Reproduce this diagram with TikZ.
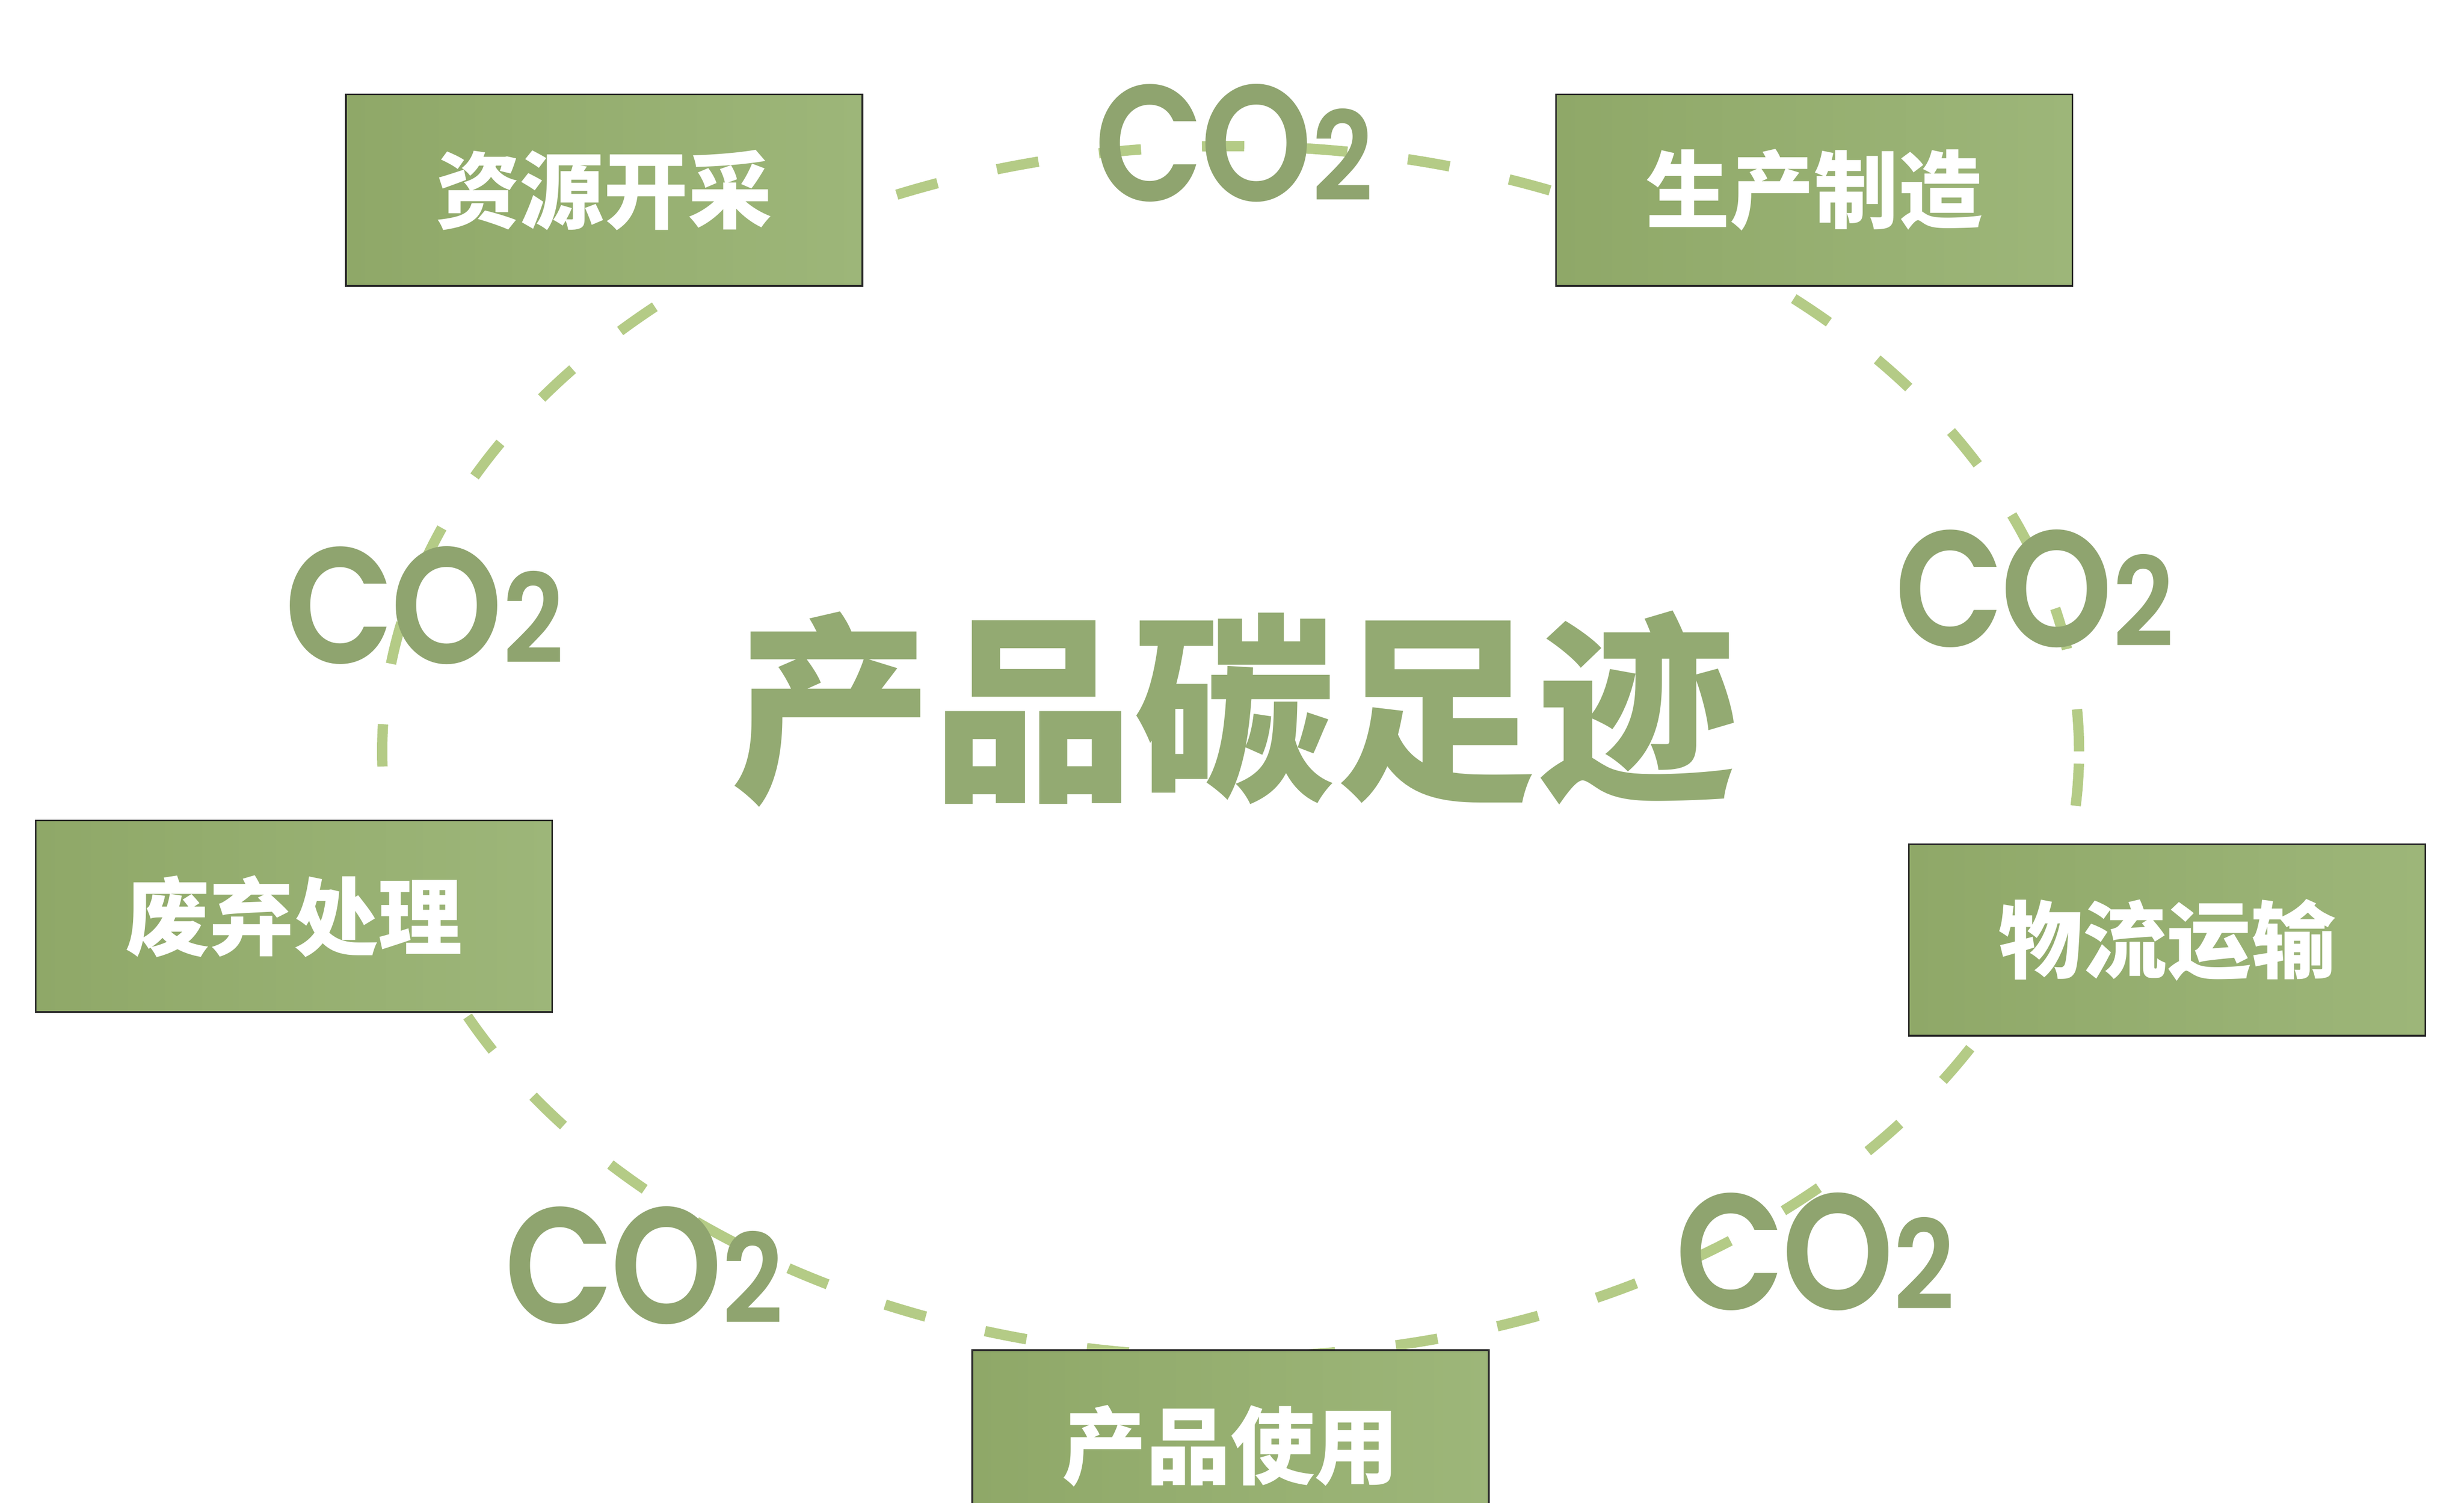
\documentclass[tikz,border=0pt]{standalone}
\usepackage{fontspec}
\usepackage{graphicx}
\newfontfamily\cjk{Noto Sans CJK SC}[BoldFont={* Black}]
\newfontfamily\cofont{Poppins}[UprightFont={* SemiBold}]
\definecolor{boxleft}{HTML}{8FA868}
\definecolor{boxright}{HTML}{9DB679}
\definecolor{cogreen}{HTML}{8FA46F}
\definecolor{titlegreen}{HTML}{93AA72}
\definecolor{ringgreen}{HTML}{B4CB86}
\newcommand{\cotwo}{\scalebox{0.86}[1]{C\kern-0.02em O{\fontsize{75}{75}\selectfont 2}}}
\tikzset{
  stage/.style={draw=black!85, line width=0.04cm, left color=boxleft, right color=boxright,
    minimum width=11cm, minimum height=4.08cm, inner sep=0pt, text=white,
    font=\cjk\bfseries\fontsize{51}{51}\selectfont},
  co/.style={text=cogreen, inner sep=0pt, anchor=base,
    font=\cofont\fontsize{100}{100}\selectfont},
  ring/.style={draw=ringgreen, line width=0.22cm, dash pattern=on 0.9cm off 1.3cm}
}
\begin{document}
\begin{tikzpicture}
\useasboundingbox (0,0) rectangle (52.48,32);
\fill[white] (0,0) rectangle (52.48,32);
\clip (0,0) rectangle (52.48,32);
\coordinate (mid) at (26.21,16);
\draw[ring] (mid) ellipse [x radius=18.07cm, y radius=12.89cm];
\node[stage] (mining) at (12.865,27.95) {资源开采};
\node[stage] (making) at (38.64,27.95) {生产制造};
\node[stage] (transport) at (46.155,11.985) {物流运输};
\node[stage] (use) at (26.21,1.21) {产品使用};
\node[stage] (waste) at (6.26,12.49) {废弃处理};
\node[co] (co-top) at (26.28,27.72) {\cotwo};
\node[co] (co-right) at (43.33,18.23) {\cotwo};
\node[co] (co-lowright) at (38.66,4.12) {\cotwo};
\node[co] (co-lowleft) at (13.72,3.82) {\cotwo};
\node[co] (co-left) at (9.04,17.88) {\cotwo};
\node[text=titlegreen, font=\cjk\bfseries\fontsize{122}{122}\selectfont] (title) at (26.29,16.91) {产品碳足迹};
\end{tikzpicture}
\end{document}
